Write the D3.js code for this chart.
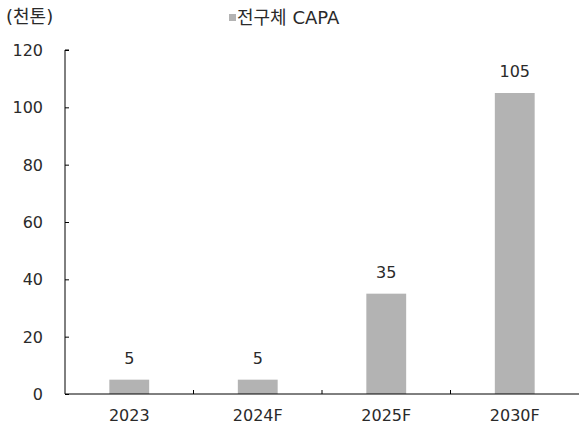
<!DOCTYPE html>
<html>
<head>
<meta charset="utf-8">
<script src="https://cdn.jsdelivr.net/npm/d3@7"></script>
<style>
  body { margin: 0; background: #fff; }
  text { font-family: "DejaVu Sans", "Noto Sans CJK KR", sans-serif; fill: #2a2a2a; }
</style>
</head>
<body>
<div class="graph"></div>
<script>
var categories = ["2023", "2024F", "2025F", "2030F"]
var values = [5, 5, 35, 105]
var yTicks = [0, 20, 40, 60, 80, 100, 120]
var seriesName = "전구체 CAPA"
var unitLabel = "(천톤)"

var w = 579
var h = 426
var padLeft = 65, padRight = 579, padTop = 50, padBottom = 394
var fontSize = "16px"

var svg = d3.select(".graph")
  .append("svg")
  .attr("width", w)
  .attr("height", h)

var x = d3.scaleBand()
  .domain(categories)
  .range([padLeft, padRight])
  .paddingInner(0.69)
  .paddingOuter(0.345)

var y = d3.scaleLinear()
  .domain([0, 120])
  .range([padBottom, padTop])

// y axis, ticks point inward
var yAxis = svg.append("g")
  .attr("transform", "translate(" + padLeft + ",0)")
  .call(d3.axisRight(y).tickValues(yTicks).tickSize(4).tickFormat(""))
yAxis.select(".domain").attr("d", "M4," + padTop + "H0V" + padBottom).attr("stroke", "#000")
yAxis.selectAll("line").attr("stroke", "#000")

svg.selectAll(".ylab")
  .data(yTicks)
  .enter()
  .append("text")
  .attr("class", "ylab")
  .attr("x", 43)
  .attr("y", function(d){ return y(d) + 6 })
  .attr("text-anchor", "end")
  .style("font-size", fontSize)
  .text(function(d){ return d })

// bars
svg.selectAll("rect.bar")
  .data(values)
  .enter()
  .append("rect")
  .attr("class", "bar")
  .attr("x", function(d, i){ return x(categories[i]) })
  .attr("y", function(d){ return y(d) })
  .attr("width", x.bandwidth())
  .attr("height", function(d){ return padBottom - y(d) })
  .attr("fill", "#b3b3b3")

svg.selectAll(".vlab")
  .data(values)
  .enter()
  .append("text")
  .attr("class", "vlab")
  .attr("x", function(d, i){ return x(categories[i]) + x.bandwidth() / 2 })
  .attr("y", function(d){ return y(d) - 16 })
  .attr("text-anchor", "middle")
  .style("font-size", fontSize)
  .text(function(d){ return d })

// x axis with separators between categories
var gap = (x.step() - x.bandwidth()) / 2
var xAxis = svg.append("g")
  .attr("transform", "translate(0," + padBottom + ")")
xAxis.append("line")
  .attr("x1", padLeft).attr("x2", padRight)
  .attr("stroke", "#000")
xAxis.selectAll(".sep")
  .data(categories.slice(1))
  .enter()
  .append("line")
  .attr("class", "sep")
  .attr("x1", function(d){ return x(d) - gap })
  .attr("x2", function(d){ return x(d) - gap })
  .attr("y1", 0).attr("y2", -4)
  .attr("stroke", "#000")

svg.selectAll(".xlab")
  .data(categories)
  .enter()
  .append("text")
  .attr("class", "xlab")
  .attr("x", function(d){ return x(d) + x.bandwidth() / 2 })
  .attr("y", 421)
  .attr("text-anchor", "middle")
  .style("font-size", fontSize)
  .text(function(d){ return d })

// unit
svg.append("text")
  .attr("x", 6).attr("y", 23)
  .style("font-size", "18px")
  .text(unitLabel)

// legend
svg.append("rect")
  .attr("x", 229).attr("y", 14)
  .attr("width", 7).attr("height", 7)
  .attr("fill", "#b3b3b3")
svg.append("text")
  .attr("x", 237).attr("y", 24)
  .style("font-size", "18px")
  .text(seriesName)
</script>
</body>
</html>
